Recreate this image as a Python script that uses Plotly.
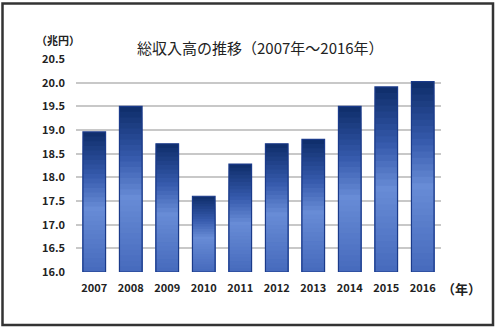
import plotly.graph_objects as go

years = ["2007", "2008", "2009", "2010", "2011", "2012", "2013", "2014", "2015", "2016"]
revenue = [18.96, 19.5, 18.71, 17.6, 18.28, 18.71, 18.8, 19.5, 19.91, 20.02]
y_ticks = [16.0, 16.5, 17.0, 17.5, 18.0, 18.5, 19.0, 19.5, 20.0, 20.5]
title_text = "総収入高の推移（2007年～2016年）"
unit_y = "（兆円）"
unit_x = "（年）"
BASE = 16.0

# gradient stops (fraction from top of bar -> colour)
stops = [(0.0, (14, 45, 105)), (0.3, (52, 88, 170)), (0.55, (104, 140, 214)), (1.0, (70, 106, 188))]

def col(t):
    for (t0, c0), (t1, c1) in zip(stops[:-1], stops[1:]):
        if t0 <= t <= t1:
            f = (t - t0) / (t1 - t0)
            return "rgb(%d,%d,%d)" % tuple(round(a + (b - a) * f) for a, b in zip(c0, c1))
    return "rgb(%d,%d,%d)" % stops[-1][1]

N = 30
fig = go.Figure()
for k in range(N):
    # each layer runs from the base up to (1 - k/N) of the bar; later layers cover lower parts
    tops = [(v - BASE) * (1 - k / N) for v in revenue]
    fig.add_trace(go.Bar(x=years, y=tops, base=[BASE] * len(revenue),
                         marker=dict(color=col((k + 0.5) / N), line=dict(width=0)),
                         hoverinfo="skip", showlegend=False))
fig.add_trace(go.Bar(x=years, y=[v - BASE for v in revenue], base=[BASE] * len(revenue),
                     marker=dict(color="rgba(0,0,0,0)", line=dict(color="#1a3a8a", width=1.2)),
                     showlegend=False))

L, R, T, B, W, H = 76, 59, 59, 57, 500, 329
pw, ph = W - L - R, H - T - B
def px(x): return (x - L) / pw
def py(y): return (H - B - y) / ph

tick_font = dict(size=11, color="#222", family="Noto Sans CJK JP, sans-serif", weight="bold")

def ann(text, x, y, font):
    return dict(text=text, x=px(x), y=py(y), xref="paper", yref="paper", showarrow=False,
                xanchor="center", yanchor="middle", font=font)

fig.update_layout(
    width=W, height=H, barmode="overlay", bargap=0.38,
    margin=dict(l=L, r=R, t=T, b=B),
    paper_bgcolor="white", plot_bgcolor="white",
    font=dict(family="Noto Sans CJK JP, sans-serif", color="#222"),
    xaxis=dict(tickfont=tick_font, showgrid=False, showline=False, ticks="",
               ticklabelstandoff=8),
    yaxis=dict(range=[16, 20.5], tickvals=y_ticks, ticktext=["%.1f" % v for v in y_ticks],
               tickfont=tick_font, showgrid=True, gridcolor="#c8c8c8", gridwidth=1.6,
               zeroline=False, showline=False, ticks="", ticklabelstandoff=10),
    annotations=[
        ann(title_text, 260, 47, dict(size=15, color="#222")),
        ann(unit_y, 58, 40, dict(size=11, color="#222", weight="bold")),
        ann(unit_x, 461, 288, dict(size=13, color="#222", weight="bold")),
    ],
)

fig.add_shape(type="rect", xref="paper", yref="paper",
              x0=px(2.5), x1=px(493), y0=py(325), y1=py(3.5),
              line=dict(color="#333", width=2.5), layer="above")

fig.write_html("out.html")
